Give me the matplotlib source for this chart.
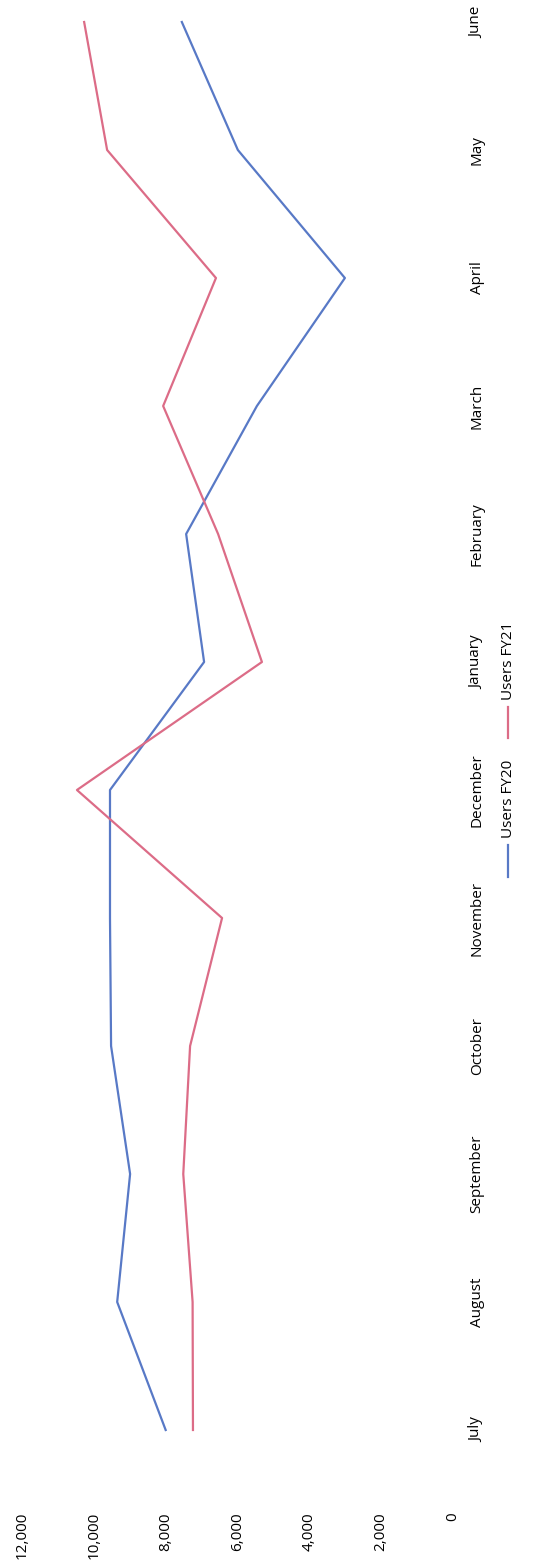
import matplotlib.pyplot as plt
from matplotlib.lines import Line2D
from matplotlib.ticker import FuncFormatter

plt.rcParams['font.family'] = ['Open Sans', 'DejaVu Sans']

# Monthly users, financial year July -> June
months = ["July", "August", "September", "October", "November", "December",
          "January", "February", "March", "April", "May", "June"]
users_fy20 = [8000, 9350, 8990, 9520, 9550, 9550, 6930, 7430, 5460, 3010, 5990, 7550]
users_fy21 = [7240, 7250, 7510, 7320, 6430, 10470, 5320, 6540, 8070, 6600, 9630, 10270]
value_ticks = [0, 2000, 4000, 6000, 8000, 10000, 12000]

W, H = 538, 1568
fig = plt.figure(figsize=(W / 100, H / 100), dpi=100)

# page is turned sideways: values run right -> left, months bottom -> top
ax = fig.add_axes([22 / W, 1 - 1494 / H, (453 - 22) / W, 1494 / H])
idx = list(range(len(months)))

blue = "#5879c6"
pink = "#dc6c87"
ax.plot(users_fy20, idx, color=blue, lw=1.6)
ax.plot(users_fy21, idx, color=pink, lw=1.6)

ax.set_xlim(12000, 0)
ax.set_ylim(-0.5, 11 + 22 / 128)
ax.set_xticks(value_ticks)
ax.xaxis.set_major_formatter(FuncFormatter(lambda v, p: f"{int(v):,}"))
ax.tick_params(axis="x", length=0, pad=13, labelsize=11, labelrotation=90)

ax.yaxis.tick_right()
ax.set_yticks(idx)
ax.set_yticklabels(months, rotation=90, va="center")
ax.tick_params(axis="y", length=0, pad=12, labelsize=11)

for s in ax.spines.values():
    s.set_visible(False)

# legend, drawn by hand so it can be turned with the page
def fx(px):
    return px / W


def fy(py):
    return 1 - py / H


fig.add_artist(Line2D([fx(508), fx(508)], [fy(877), fy(845)], color=blue, lw=1.6))
fig.text(fx(508), fy(838), "Users FY20", rotation=90, ha="center", va="bottom", fontsize=11)
fig.add_artist(Line2D([fx(508), fx(508)], [fy(738), fy(707)], color=pink, lw=1.6))
fig.text(fx(508), fy(700), "Users FY21", rotation=90, ha="center", va="bottom", fontsize=11)

fig.savefig("out.png", dpi=100)
